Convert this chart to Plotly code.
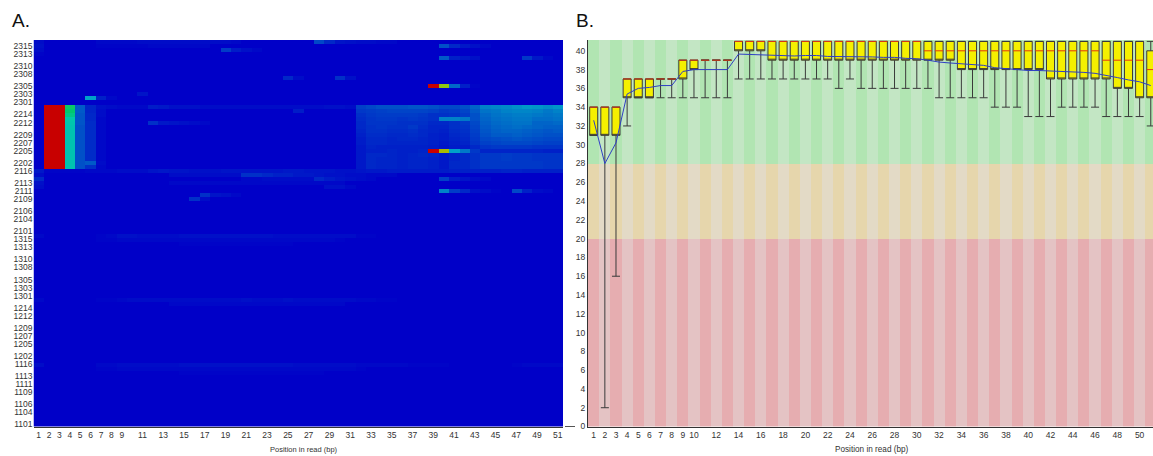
import plotly.graph_objects as go

W, H = 1153, 456
POS = list(range(1, 52))

# ---------- Panel A: per-tile per-position heat values (0-100) ----------
TILES = [f"{s}{t:02d}" for s in (11, 12, 13, 21, 22, 23) for t in range(1, 17)]
HEAT_TICKS = ["2315","2313","2310","2308","2305","2303","2301","2214","2212","2209","2207","2205",
              "2202","2116","2113","2111","2109","2106","2104","2101","1315","1313","1310","1308",
              "1305","1303","1301","1214","1212","1209","1207","1205","1202","1116","1113","1111",
              "1109","1106","1104","1101"]
HEAT_X_TICKS = [1,2,3,4,5,6,7,8,9] + list(range(11, 52, 2))

LANE22_TILES = ["2216","2215","2214","2213","2212","2211","2210","2209",
                "2208","2207","2206","2205","2204","2203","2202","2201"]
LANE22_POS2 = [100]*16
LANE22_POS3 = [100]*16
LANE22_POS4 = [56,55,53,50,49,48,48,48,48,48,48,48,48,48,48,48]
LANE22_POS5 = [22,22,21,21,21,20,20,20,20,20,20,20,20,20,20,20]
LANE22_POS6 = [9,9,10,10,11,11,11,11,11,11,11,11,11,11,22,12]
LANE22_POS7 = [4,3,3,2,2,2,2,2,2,2,2,2,2,2,3,2]

T2216 = [16,18,20,20,20,21,21,20,18,18,20,24,30,31,32,34,36,35,33,35]
T2215 = [14,15,16,17,17,17,17,16,14,15,17,22,27,28,30,31,31,30,28,30]
T2214 = [12,14,15,15,15,15,14,12,12,13,15,20,25,27,28,29,29,28,27,28]
T2213 = [11,13,14,14,13,14,13,12,30,30,28,20,24,26,27,28,28,26,26,27]
T2212 = [10,13,13,13,12,12,12,10,10,12,14,18,23,25,26,27,27,24,24,25]
T2211 = [10,12,13,12,12,14,11,9,9,12,13,17,22,24,25,26,25,24,23,23]
T2210 = [9,12,12,11,11,12,10,9,8,11,12,16,21,23,24,24,23,22,21,22]
T2209 = [8,11,11,10,10,11,10,8,7,10,11,15,20,22,22,23,22,21,20,20]
T2208 = [7,10,10,9,10,10,9,8,7,9,10,14,18,19,20,21,20,19,18,18]
T2207 = [7,10,10,9,9,9,9,8,6,8,9,13,16,17,18,18,18,17,16,16]
T2206 = [6,9,8,8,8,8,8,7,5,7,7,10,13,14,14,14,14,13,13,13]
T2205 = [6,8,8,9,8,8,9,100,72,38,28,14,9,9,9,9,9,9,8,8]
T2204 = [6,10,10,9,8,9,10,9,6,9,10,12,14,14,15,14,14,13,13,13]
T2203 = [6,10,9,9,8,9,9,8,6,9,10,12,14,14,15,14,14,13,13,13]
T2202 = [6,10,9,9,8,9,9,8,6,10,10,12,14,14,14,14,14,14,13,13]
T2201 = [6,10,9,9,8,9,9,8,6,10,10,12,14,14,14,14,14,14,13,13]
LANE22_TAILS = [T2216,T2215,T2214,T2213,T2212,T2211,T2210,T2209,
                T2208,T2207,T2206,T2205,T2204,T2203,T2202,T2201]

SPOT_TILE = ["2316","2316","2316","2315","2315","2315","2314","2314","2313","2312","2312",
             "2307","2307","2305","2303","2302","2216","2215","2212","2116","2115","2115",
             "2114","2114","2114","2113","2113","2112","2112","2111","2111","2110","2109",
             "1316","1315","1314","1216","1215","1116","1115","1114"]
SPOT_START = [1,7,28,1,7,40,1,19,1,40,48,
              25,30,39,11,6,8,26,12,1,1,14,
              1,21,40,1,14,1,29,40,47,17,16,
              1,7,15,1,14,1,7,15]
SPOT_VALUES = [[3],[2,2,2,2,3,3,3,3,3,3,3,3,3,2],[18,10,5,4,3,3,2,2],[4],[1,1,1,1,1,2,2,2,2,2,2],[20,10,6,4,2],
               [3],[15,7,4,2],[1],[22,8,6,4],[14,6,2],
               [10,3],[12,4],[100,68,25,8,1],[5],[38,8,2],
               [3,2,2,2,7,6,4,4,4,3,3,3,3,3,3,3,3,3,3,3,3,4,4,3],[7],[12,6,5,4,3,2],
               [6,1,1,1,1,2,2,2,3,3,3,5,6,5,5,4,4,4,5,5,5,5,5,5,6,6,5,5,5,4,4,5,6,6,7,7,7,7,7,7,8,8,8,8,8,9,9,8,8,8,8],
               [3],[3,3,3,3,3,3,3,12,12,10,8,8,6,6,5,4,4,3,3,2,2,2],
               [10],[2,2,3,3,3,3,3,10,7,5,4,3,2],[16,7,5,3,2],
               [4],[2,2,2,2,2,2,2,2,2,2,2,2,2,2,2,2,2],
               [3],[4,4,2],[30,15,10,4,3,1],[18,8,3,2],[12,5,4,2],[12,3],
               [2,0,0,0,0,0,1,2,4,4,3,3,3,3,4,4,4,4,4,4,4,4,4,3,3,3,3,3,3,3,3,1,1],
               [1,1,2,2,2,2,2,2,2,2,2,2,2,2,2,2,2,2,2,2,2,2,2,1],
               [1,1,1,1,1,1,1,1,1,1,1],
               [2,0,0,0,0,0,1,1,2,3,3,3,3,3,3,3,3,3,3,3,4,3,3,3,4,3,3,3,3,3,3,2,2,1,1],
               [2,2,2,2,2,2,2,2,2,2,2,2,2,2,2,2,2],
               [3,0,0,0,0,0,2,2,3,3,3,3,3,3,4,4,4,4,4,4,4,4,4,4,4,3,3,3,3,3,3,2,2,2,2,2,1,1,1,1,0,0,0,0,0,0,1,2,2,2,2],
               [1,1,2,2,2,2,2,2,2,2,2,2,2,2,2,2,2,2,2,2,2,2,2,2,2,1],
               [1,1,1,1,1,1,1,1,1,1,1,1,1,1]]

HEAT_SCALE_STOPS = [0, 0.1, 0.2, 0.3, 0.4, 0.5, 0.55, 0.7, 0.85, 1]
HEAT_SCALE_COLORS = ["rgb(0,0,200)","rgb(0,40,200)","rgb(0,80,200)","rgb(0,130,200)","rgb(0,170,200)",
                     "rgb(0,200,170)","rgb(0,200,110)","rgb(165,200,0)","rgb(200,100,0)","rgb(200,0,0)"]

z = [[0]*51 for _ in TILES]
for tile, start, vals in zip(SPOT_TILE, SPOT_START, SPOT_VALUES):
    row = TILES.index(tile)
    for k, v in enumerate(vals):
        z[row][start - 1 + k] = v
for i, tile in enumerate(LANE22_TILES):
    row = TILES.index(tile)
    z[row][1] = LANE22_POS2[i]; z[row][2] = LANE22_POS3[i]; z[row][3] = LANE22_POS4[i]
    z[row][4] = LANE22_POS5[i]; z[row][5] = LANE22_POS6[i]; z[row][6] = LANE22_POS7[i]
    for k, v in enumerate(LANE22_TAILS[i]):
        z[row][31 + k] = v

# ---------- Panel B: per-base quality boxes ----------
Q1 = [31,31,31,35,35,35,37,37,37,38,39,39,39,40,40,40,39,39,39,39,39,39,39,39,39,39,39,39,39,39,
      39,39,39,38,38,38,38,38,38,38,38,37,37,37,37,37,37,36,36,35,35]
Q3 = [34,34,34,37,37,37,37,37,39,39,39,39,39,41,41,41,41,41,41,41,41,41,41,41,41,41,41,41,41,41,
      41,41,41,41,41,41,41,41,41,41,41,41,41,41,41,41,41,41,41,41,40]
MEDIAN = [34,34,34,37,37,37,37,37,39,39,39,39,39,41,41,41,41,41,41,41,41,41,41,41,41,41,41,41,41,41,
          40,40,40,40,40,40,40,40,40,40,40,40,40,40,40,40,39,39,39,39,38]
WHISK_LOW = [31,2,16,32,35,35,35,35,35,35,35,35,35,37,37,37,37,37,37,37,37,37,36,37,36,36,36,36,36,36,
             36,35,35,35,35,35,34,34,34,33,33,33,34,34,34,34,33,33,33,33,32]
WHISK_HIGH = [34,34,34,37,37,37,37,37,39,39,39,39,39,41,41,41,41,41,41,41,41,41,41,41,41,41,41,41,41,41,
              41,41,41,41,41,41,41,41,41,41,41,41,41,41,41,41,41,41,41,41,41]
MEAN = [32.6,28,30.2,35.4,36,36.1,36.3,36.3,37.8,38,38,38,38,39.65,39.6,39.55,39.55,39.45,39.45,39.5,
        39.5,39.4,39.4,39.4,39.4,39.35,39.3,39.3,39.2,39.15,39,38.8,38.7,38.6,38.5,38.45,38.2,38.1,38,
        37.9,37.9,37.85,37.85,37.8,37.7,37.6,37.4,37.15,36.9,36.7,36.3]
BOX_X_TICKS = list(range(1, 11)) + list(range(12, 51, 2))
BOX_Y_TICKS = list(range(0, 41, 2))
BAND_LOW = [0, 20, 28]
BAND_HEIGHT = [20, 8, 13.2]
BAND_ODD = ["#e6adb0", "#e6d6ac", "#b1e5b2"]
BAND_EVEN = ["#e4c3c4", "#e3dac6", "#c3e6c4"]

fig = go.Figure()
fig.add_trace(go.Heatmap(x=POS, y=TILES, z=z, zmin=0, zmax=100, showscale=False, hoverinfo="skip",
                         colorscale=[[s, c] for s, c in zip(HEAT_SCALE_STOPS, HEAT_SCALE_COLORS)],
                         xaxis="x", yaxis="y"))
for low, height, odd, even in zip(BAND_LOW, BAND_HEIGHT, BAND_ODD, BAND_EVEN):
    fig.add_trace(go.Bar(x=POS, y=[height]*51, base=[low]*51, width=1,
                         marker=dict(color=[odd if p % 2 else even for p in POS], line=dict(width=0)),
                         hoverinfo="skip", xaxis="x2", yaxis="y2"))
fig.add_trace(go.Box(x=POS, q1=Q1, median=Q1, q3=Q3, lowerfence=WHISK_LOW, upperfence=WHISK_HIGH,
                     width=0.72, whiskerwidth=1, boxpoints=False, fillcolor="#f5f000",
                     line=dict(color="#3a3a3a", width=1), hoverinfo="skip", xaxis="x2", yaxis="y2"))
fig.add_trace(go.Scatter(x=POS, y=MEDIAN, mode="markers", hoverinfo="skip", xaxis="x2", yaxis="y2",
                         marker=dict(symbol="line-ew", size=5.7, line=dict(color="#e23a10", width=1)),
                         cliponaxis=False))
fig.add_trace(go.Scatter(x=POS, y=MEAN, mode="lines", hoverinfo="skip", xaxis="x2", yaxis="y2",
                         line=dict(color="#2f3fc4", width=1)))

FONT = dict(family="Liberation Sans", size=8.5, color="#333333")
TOP, BOTTOM = 1 - 40/H, 1 - 426.5/H
y_dom = [BOTTOM, TOP]
fig.update_layout(
    width=W, height=H, autosize=False, margin=dict(l=0, r=0, t=0, b=0, autoexpand=False),
    paper_bgcolor="white", plot_bgcolor="white", showlegend=False, barmode="overlay", bargap=0,
    font=FONT,
    xaxis=dict(domain=[33.5/W, 563/W], range=[0.5, 51.5], tickmode="array", tickvals=HEAT_X_TICKS,
               ticks="", showgrid=False, zeroline=False, showline=True, linecolor="#333333", linewidth=1,
               automargin=False, tickfont=FONT),
    yaxis=dict(domain=y_dom, type="category", categoryorder="array", categoryarray=TILES,
               range=[-0.5, 95.5], tickmode="array", tickvals=HEAT_TICKS, ticks="", showgrid=False,
               zeroline=False, showline=False, automargin=False, tickfont=FONT),
    xaxis2=dict(domain=[588/W, 1], anchor="y2", range=[0.488, 51.2], tickmode="array", tickvals=BOX_X_TICKS,
                ticks="", showgrid=False, zeroline=False, showline=True, linecolor="#333333", linewidth=1,
                automargin=False, tickfont=FONT),
    yaxis2=dict(domain=y_dom, anchor="x2", range=[0, 41.15], tickmode="array", tickvals=BOX_Y_TICKS,
                ticks="", showgrid=False, zeroline=False, showline=True, linecolor="#333333", linewidth=1,
                automargin=False, tickfont=FONT),
    annotations=[
        dict(text="A.", xref="paper", yref="paper", x=10/W, y=1-21/H, xanchor="left", yanchor="middle",
             showarrow=False, font=dict(family="Liberation Sans", size=19, color="#111111")),
        dict(text="B.", xref="paper", yref="paper", x=574/W, y=1-21/H, xanchor="left", yanchor="middle",
             showarrow=False, font=dict(family="Liberation Sans", size=19, color="#111111")),
        dict(text="Position in read (bp)", xref="paper", yref="paper", x=304/W, y=1-449/H,
             xanchor="center", yanchor="middle", showarrow=False,
             font=dict(family="Liberation Sans", size=7.5, color="#333333")),
        dict(text="Position in read (bp)", xref="paper", yref="paper", x=872/W, y=1-449/H,
             xanchor="center", yanchor="middle", showarrow=False,
             font=dict(family="Liberation Sans", size=8.2, color="#333333")),
    ],
    shapes=[dict(type="line", xref="paper", yref="paper", x0=565/W, x1=575/W, y0=BOTTOM, y1=BOTTOM,
                 line=dict(color="#555555", width=1))],
)
fig.write_html("out.html", config=dict(displayModeBar=False),
               post_script="document.body.style.margin='0';document.body.style.overflow='hidden';")
